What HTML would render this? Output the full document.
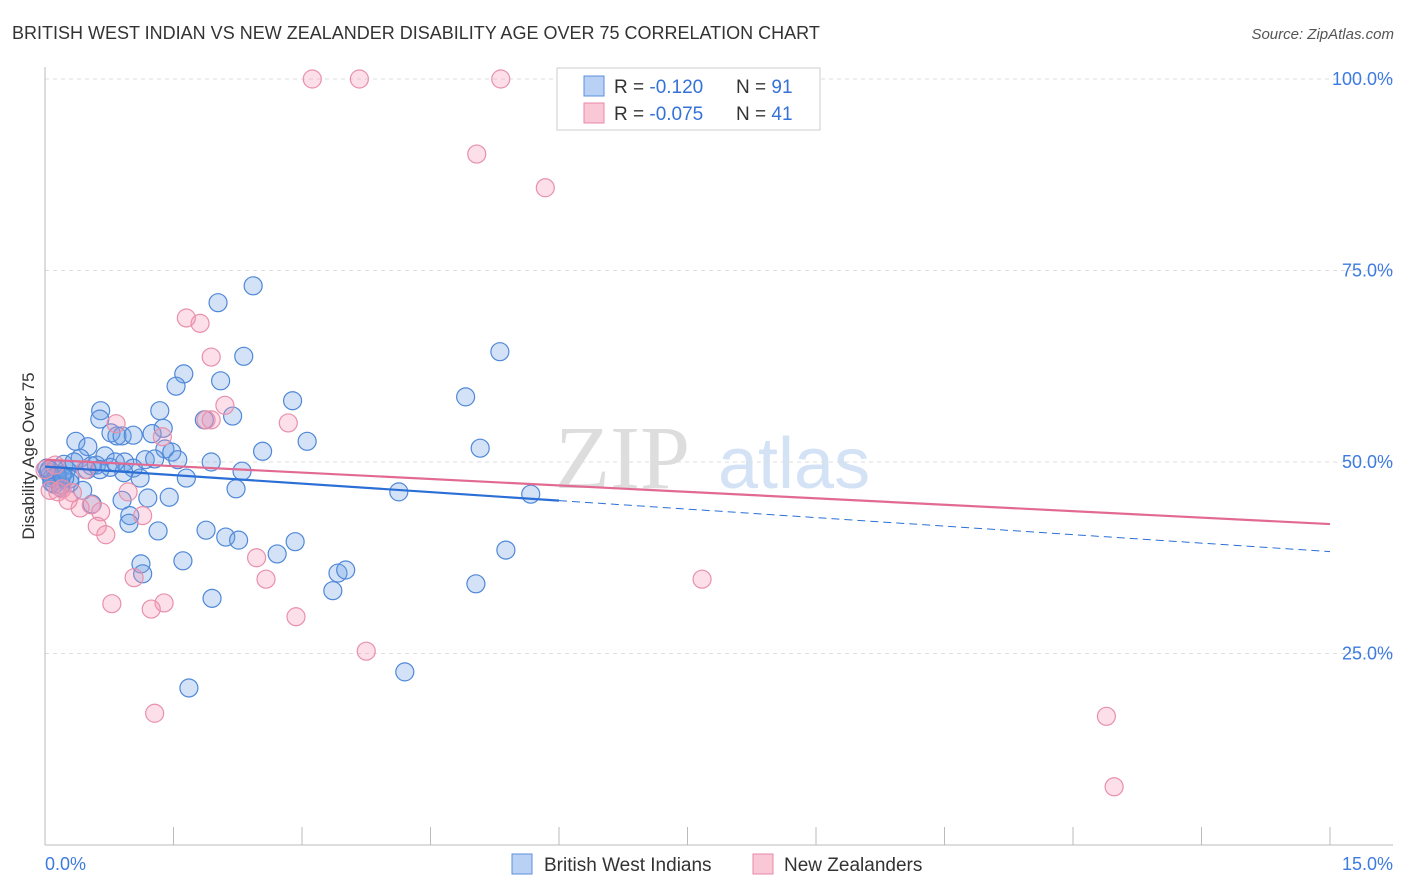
<!DOCTYPE html>
<html><head><meta charset="utf-8"><style>
body{margin:0;background:#fff;font-family:"Liberation Sans",sans-serif;}
#c{position:relative;width:1406px;height:892px;overflow:hidden;}
</style></head><body>
<div id="c">
<svg id="s" width="1406" height="892" xmlns="http://www.w3.org/2000/svg">
<text x="12" y="39" font-size="18" fill="#333">BRITISH WEST INDIAN VS NEW ZEALANDER DISABILITY AGE OVER 75 CORRELATION CHART</text>
<text x="1394" y="39" font-size="15" fill="#555" font-style="italic" text-anchor="end">Source: ZipAtlas.com</text>
<text x="34" y="456" font-size="17" fill="#333" text-anchor="middle" transform="rotate(-90 34 456)">Disability Age Over 75</text>
<text x="555" y="488" font-size="90" fill="#ddd" font-family="Liberation Serif,serif">ZIP</text>
<text x="718" y="488" font-size="72" fill="#d4e2f6">atlas</text>
<g id="grid"></g><g id="axes"></g><g id="pts"></g><g id="trend"></g>
<g>
<rect x="557" y="68" width="263" height="62" fill="#fff" stroke="#ccc"/>
<rect x="584" y="76" width="20" height="20" fill="#b9d1f5" stroke="#5b8fdc"/>
<rect x="584" y="103" width="20" height="20" fill="#f9c7d6" stroke="#e88aa8"/>
<text x="614" y="93" font-size="19" fill="#333">R = <tspan fill="#3572d8">-0.120</tspan><tspan x="736">N = </tspan><tspan fill="#3572d8">91</tspan></text>
<text x="614" y="120" font-size="19" fill="#333">R = <tspan fill="#3572d8">-0.075</tspan><tspan x="736">N = </tspan><tspan fill="#3572d8">41</tspan></text>
</g>
<g>
<rect x="512" y="854" width="20" height="20" fill="#b9d1f5" stroke="#5b8fdc"/>
<text x="544" y="871" font-size="19" fill="#333">British West Indians</text>
<rect x="753" y="854" width="20" height="20" fill="#f9c7d6" stroke="#e88aa8"/>
<text x="784" y="871" font-size="19" fill="#333">New Zealanders</text>
</g>
</svg>
</div>
<script>
const yTicks=[100,75,50,25];
const yTickLabels=["100.0%","75.0%","50.0%","25.0%"];
const xTicks=[0,1.5,3,4.5,6,7.5,9,10.5,12,13.5,15];
const blueX=[2.43,2.02,2.32,5.31,1.62,1.53,2.05,4.91,2.89,1.34,0.65,2.19,1.86,0.64,1.38,3.06,5.08,0.36,0.77,0.84,0.90,1.03,1.25,1.40,1.48,0.50,2.54,0.41,0.70,1.17,1.28,1.55,1.94,0.93,1.03,0.54,0.60,0.22,0.12,0.06,0.29,0.15,2.30,1.65,1.11,0.92,0.44,0.19,0.11,2.23,4.13,5.67,0.55,0.90,1.20,1.45,0.99,0.98,1.32,1.88,2.11,2.26,2.92,2.71,5.38,1.12,1.61,1.14,3.42,3.51,3.36,1.95,5.03,4.20,1.68,0.04,0.08,0.02,0.25,0.29,0.76,0.64,0.34,0.49,0.23,0.18,0.14,0.08,0.05,0.20,0.82];
const blueY=[73.0,70.8,63.8,64.4,61.5,59.9,60.6,58.5,58.0,56.7,56.7,56.0,55.5,55.6,54.4,52.7,51.8,52.7,53.8,53.4,53.4,53.5,53.7,51.7,51.3,52.0,51.4,50.5,50.8,50.3,50.4,50.3,50.0,50.0,49.2,49.5,49.6,49.7,49.0,48.3,47.8,47.7,48.8,47.9,47.9,48.6,46.3,47.0,47.1,46.5,46.1,45.8,44.5,45.0,45.3,45.4,43.0,42.0,41.0,41.1,40.2,39.8,39.6,38.0,38.5,36.7,37.1,35.4,35.5,35.9,33.2,32.2,34.1,22.6,20.5,48.7,47.9,49.2,49.0,47.3,49.3,49.0,50.0,49.0,47.9,46.7,48.2,47.3,49.0,48.3,50.0];
const pinkX=[3.12,3.67,5.32,5.04,5.84,1.65,1.81,1.94,2.10,1.88,1.94,2.84,0.83,1.37,0.12,0.06,0.15,0.32,0.20,0.97,0.54,0.65,1.14,0.61,0.71,2.47,1.04,2.58,7.67,0.78,1.39,1.24,2.93,3.75,1.28,12.39,12.48,0.41,0.27,0.00,0.47];
const pinkY=[100,100,100,90.2,85.8,68.8,68.1,63.7,57.4,55.5,55.5,55.1,55.0,53.3,49.6,46.3,46.1,46.0,46.5,46.1,44.4,43.5,43.0,41.6,40.5,37.5,34.9,34.7,34.7,31.5,31.6,30.8,29.8,25.3,17.2,16.8,7.6,44.0,45.0,49.0,49.0];
const blueTrend=[49.4,38.3], blueSolidEnd=6.0;
const pinkTrend=[50.3,41.9];
const NS="http://www.w3.org/2000/svg";
const X=v=>45+v/15*1285, Y=v=>845-v/100*766;
function mk(t,a,p){const e=document.createElementNS(NS,t);for(const k in a)e.setAttribute(k,a[k]);p.appendChild(e);return e;}
const grid=document.getElementById('grid'),axes=document.getElementById('axes'),pts=document.getElementById('pts'),tr=document.getElementById('trend');
yTicks.forEach((t,i)=>{
 const l=mk('line',{x1:45,x2:1393,y1:Y(t),y2:Y(t),stroke:'#ddd','stroke-dasharray':'4,4'},grid);
 
 
 const tx=mk('text',{x:1393,y:Y(t)+6,'font-size':18,fill:'#3d7be0','text-anchor':'end'},grid);
 tx.textContent=yTickLabels[i];
 
 
});
let a=mk('line',{x1:45,x2:45,y1:67,y2:845,stroke:'#bbb'},axes);


a=mk('line',{x1:45,x2:1393,y1:845,y2:845,stroke:'#bbb'},axes);


xTicks.forEach(t=>{
 const l=mk('line',{x1:X(t),x2:X(t),y1:827,y2:845,stroke:'#bbb'},axes);
 
 
});
let t0=mk('text',{x:45,y:870,'font-size':18,fill:'#3d7be0'},axes);t0.textContent='0.0%';


let t1=mk('text',{x:1393,y:870,'font-size':18,fill:'#3d7be0','text-anchor':'end'},axes);t1.textContent='15.0%';


blueX.forEach((x,i)=>{
 const c=mk('circle',{cx:X(x),cy:Y(blueY[i]),r:9,fill:'rgba(110,160,230,0.3)',stroke:'#4f88d8','stroke-width':1.2},pts);
 
 
});
pinkX.forEach((x,i)=>{
 const c=mk('circle',{cx:X(x),cy:Y(pinkY[i]),r:9,fill:'rgba(245,150,180,0.3)',stroke:'#e890ab','stroke-width':1.2},pts);
 
 
});
const bAt=x=>blueTrend[0]+(blueTrend[1]-blueTrend[0])*x/15;
let l=mk('line',{x1:X(0),y1:Y(bAt(0)),x2:X(blueSolidEnd),y2:Y(bAt(blueSolidEnd)),stroke:'#2b6fd6','stroke-width':2.2},tr);


l=mk('line',{x1:X(blueSolidEnd),y1:Y(bAt(blueSolidEnd)),x2:X(15),y2:Y(bAt(15)),stroke:'#2b6fd6','stroke-width':1,'stroke-dasharray':'8,5'},tr);


l=mk('line',{x1:X(0),y1:Y(pinkTrend[0]),x2:X(15),y2:Y(pinkTrend[1]),stroke:'#e26a92','stroke-width':2.2},tr);


</script>
</body></html>
